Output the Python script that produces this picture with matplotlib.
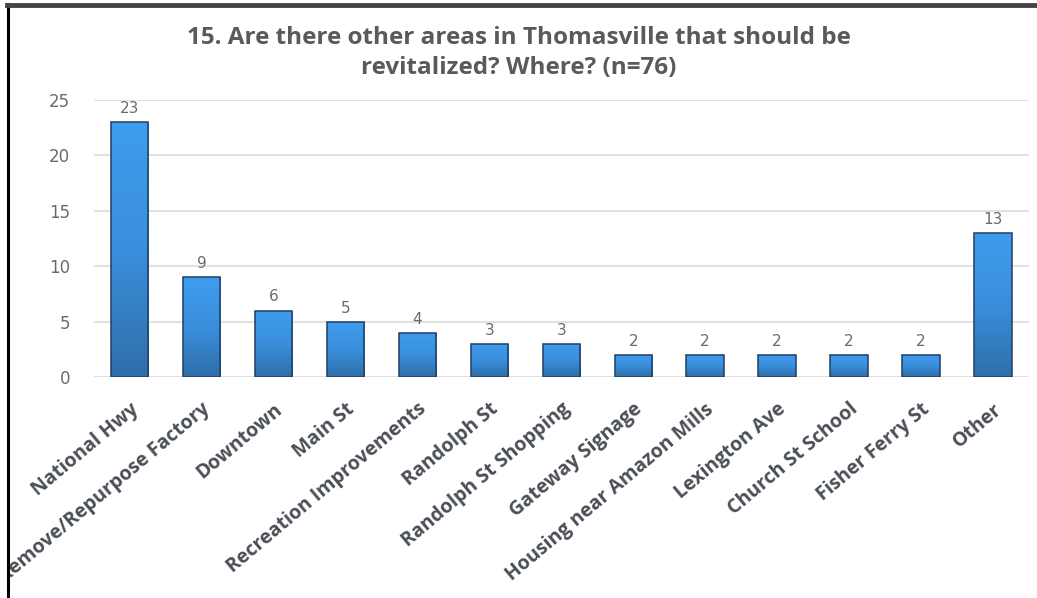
import matplotlib
matplotlib.use("Agg")
import matplotlib.pyplot as plt
import numpy as np
from matplotlib.colors import LinearSegmentedColormap
from matplotlib.patches import Rectangle
from matplotlib.lines import Line2D

categories = [
    "National Hwy", "Remove/Repurpose Factory", "Downtown", "Main St",
    "Recreation Improvements", "Randolph St", "Randolph St Shopping",
    "Gateway Signage", "Housing near Amazon Mills", "Lexington Ave",
    "Church St School", "Fisher Ferry St", "Other",
]
counts = [23, 9, 6, 5, 4, 3, 3, 2, 2, 2, 2, 2, 13]
title = "15. Are there other areas in Thomasville that should be\nrevitalized? Where? (n=76)"
yticks = [0, 5, 10, 15, 20, 25]

W, H = 1037, 598
fig = plt.figure(figsize=(W / 100, H / 100), dpi=100)
fig.patch.set_facecolor("white")

ax = fig.add_axes([93.5 / W, 1 - 377 / H, (1029 - 93.5) / W, (377 - 100) / H])
ax.set_facecolor("white")

x = np.arange(len(categories))
bar_w = 0.52
bars = ax.bar(x, counts, width=bar_w, color="none", edgecolor="#1f3f66",
              linewidth=1.1, zorder=3)

# vertical gradient fill inside each bar
grad = LinearSegmentedColormap.from_list("barblue", ["#2f6ea9", "#3a8fdc", "#3f9cee"])
g = np.linspace(0, 1, 256).reshape(-1, 1)
for b in bars:
    x0, y0 = b.get_x(), b.get_y()
    w, h = b.get_width(), b.get_height()
    im = ax.imshow(g, cmap=grad, origin="lower", aspect="auto",
                   extent=[x0, x0 + w, y0, y0 + h], zorder=2)
    im.set_clip_path(b)

ax.set_xlim(-0.5, len(categories) - 0.5)
ax.set_ylim(0, 25)
ax.set_yticks(yticks)
ax.yaxis.grid(True, color="#dcdcdc", linewidth=1.2, zorder=0)
ax.set_axisbelow(True)
for s in ax.spines.values():
    s.set_visible(False)
ax.tick_params(axis="both", length=0)
ax.tick_params(axis="y", pad=17, labelsize=12, labelcolor="#6a6a6a")

ax.set_xticks(x)
ax.set_xticklabels(categories, rotation=40, ha="right", rotation_mode="anchor",
                   fontsize=14, fontweight="bold", color="#4a4f57",
                   family="Open Sans")
ax.tick_params(axis="x", pad=16)

for xi, v in zip(x, counts):
    ax.text(xi, v + 0.55, str(v), ha="center", va="bottom",
            fontsize=11, color="#6a6a6a")

fig.text(0.5, 1 - 53 / H, title, ha="center", va="center",
         fontsize=17.5, fontweight="bold", color="#5a5a5a",
         family="Open Sans", linespacing=1.3)

# chart frame: mask outside area and draw the border lines
fig.patches.append(Rectangle((0, 0), 7 / W, 1, transform=fig.transFigure,
                             facecolor="white", edgecolor="none", zorder=10))
fig.lines.append(Line2D([8 / W, 8 / W], [0, 1 - 4 / H], transform=fig.transFigure,
                        color="black", linewidth=2.2, zorder=11))
fig.lines.append(Line2D([7 / W, 1], [1 - 5 / H, 1 - 5 / H], transform=fig.transFigure,
                        color="#444444", linewidth=3.5, zorder=11))

fig.savefig("out.png", dpi=100, facecolor="white")
